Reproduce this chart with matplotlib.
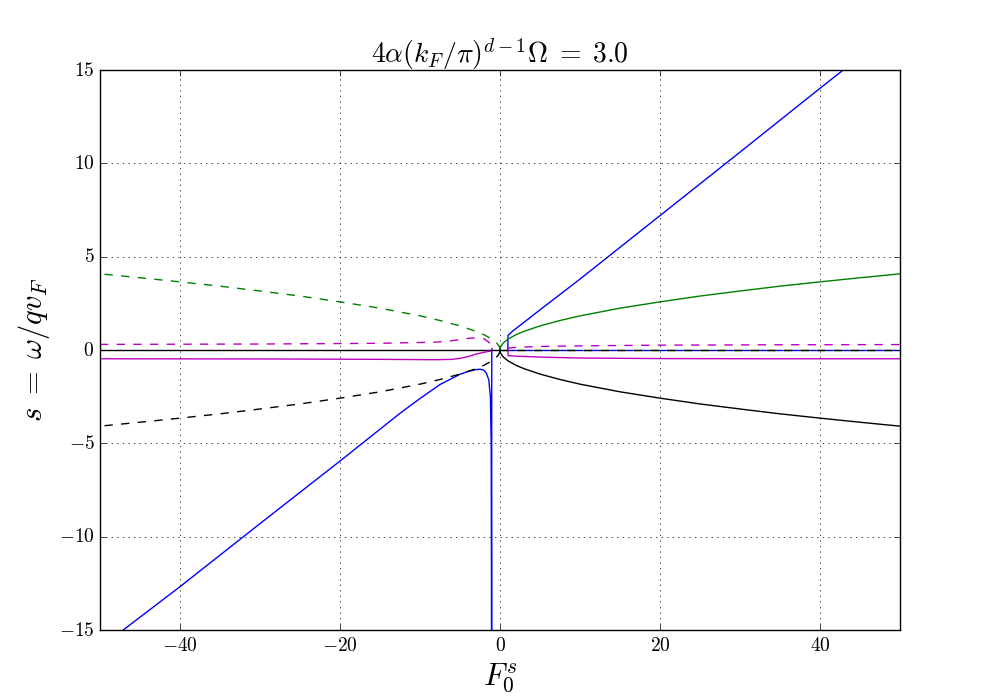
import numpy as np
import matplotlib
matplotlib.use('Agg')
import matplotlib.pyplot as plt
from matplotlib.ticker import FuncFormatter

plt.style.use('classic')
plt.rcParams['mathtext.fontset'] = 'cm'

# values
# sqrt-like branches (green / black), right side real part, left side imag part
F_pos = [0.0, 0.05, 0.1, 0.25, 0.5, 1.0, 2.0, 3.0, 5.0, 7.5, 10.0, 15.0, 20.0, 25.0, 30.0, 35.0, 40.0, 45.0, 50.0]
s_sq = [0.0, 0.13, 0.18, 0.29, 0.41, 0.58, 0.82, 1.0, 1.29, 1.58, 1.83, 2.24, 2.58, 2.89, 3.16, 3.42, 3.65, 3.87, 4.08]
F_neg = [-f for f in F_pos]

# blue branch
F_b_left = [-50.0, -47.1, -40.0, -30.0, -20.0, -12.5, -10.0, -7.5, -5.0, -4.0, -3.0, -2.5, -2.0, -1.7, -1.4, -1.2, -1.1, -1.06, -1.05, -1.03]
s_b_left = [-15.95, -15.0, -12.68, -9.3, -5.95, -3.39, -2.6, -1.85, -1.3, -1.15, -1.05, -1.03, -1.08, -1.25, -1.6, -2.5, -5.0, -12.0, -16.0, 0.05]
F_b_right = [0.98, 1.0, 1.5, 2.0, 5.0, 10.0, 20.0, 30.0, 40.0, 50.0]
s_b_right = [0.0, 0.78, 0.98, 1.15, 2.15, 3.8, 7.2, 10.6, 14.02, 17.4]

# magenta branch, real (solid) and imaginary (dashed)
F_m_left = [-50.0, -30.0, -15.0, -8.0, -6.0, -5.0, -4.0, -3.0, -2.0, -1.5, -1.1, -1.03]
s_m_left_re = [-0.47, -0.48, -0.5, -0.52, -0.5, -0.45, -0.35, -0.22, -0.12, -0.08, -0.05, 0.08]
s_m_left_im = [0.3, 0.32, 0.36, 0.42, 0.5, 0.56, 0.62, 0.65, 0.6, 0.45, 0.28, 0.2]
F_m_right = [1.0, 1.02, 2.0, 5.0, 10.0, 20.0, 35.0, 50.0]
s_m_right_re = [0.0, -0.3, -0.33, -0.38, -0.43, -0.46, -0.47, -0.47]
s_m_right_im = [0.08, 0.1, 0.14, 0.19, 0.22, 0.26, 0.28, 0.29]

zeros_neg = [0.0 for f in F_neg]
zeros_pos = [0.0 for f in F_pos]
zeros_b = [0.0 for f in F_b_right]

fig = plt.figure(figsize=(10, 7), dpi=100)
ax = fig.add_subplot(111)
fig.subplots_adjust(left=0.1, right=0.9, top=0.9, bottom=0.1)

# blue
ax.plot(F_b_left, s_b_left, color='b')
ax.plot(F_b_right, s_b_right, color='b')
ax.plot(F_b_right, zeros_b, color='b', linestyle='--')
# green
ax.plot(F_pos, s_sq, color='g')
ax.plot(F_neg, s_sq, color='g', linestyle='--')
ax.plot(F_pos, zeros_pos, color='g', linestyle='--')
# black
ax.plot(F_neg, zeros_neg, color='k')
ax.plot(F_pos, [-v for v in s_sq], color='k')
ax.plot(F_neg, [-v for v in s_sq], color='k', linestyle='--')
ax.plot(F_pos, zeros_pos, color='k', linestyle='--')
# magenta
ax.plot(F_m_left, s_m_left_re, color='m')
ax.plot(F_m_left, s_m_left_im, color='m', linestyle='--')
ax.plot(F_m_right, s_m_right_re, color='m')
ax.plot(F_m_right, s_m_right_im, color='m', linestyle='--')

ax.set_xlim(-50, 50)
ax.set_ylim(-15, 15)
ax.set_xticks([-40, -20, 0, 20, 40])
ax.set_yticks([-15, -10, -5, 0, 5, 10, 15])
fmt = FuncFormatter(lambda v, p: r'$%d$' % v)
ax.xaxis.set_major_formatter(fmt)
ax.yaxis.set_major_formatter(fmt)
ax.tick_params(labelsize=14)
ax.grid(True)

ax.set_title(r'$4\alpha(k_F/\pi)^{d-1}\Omega\;=\;3.0$', fontsize=20)
ax.set_xlabel(r'$F_0^s$', fontsize=22)
ax.set_ylabel(r'$s\;=\;\omega/qv_F$', fontsize=22)

plt.savefig('out.png', dpi=100)
